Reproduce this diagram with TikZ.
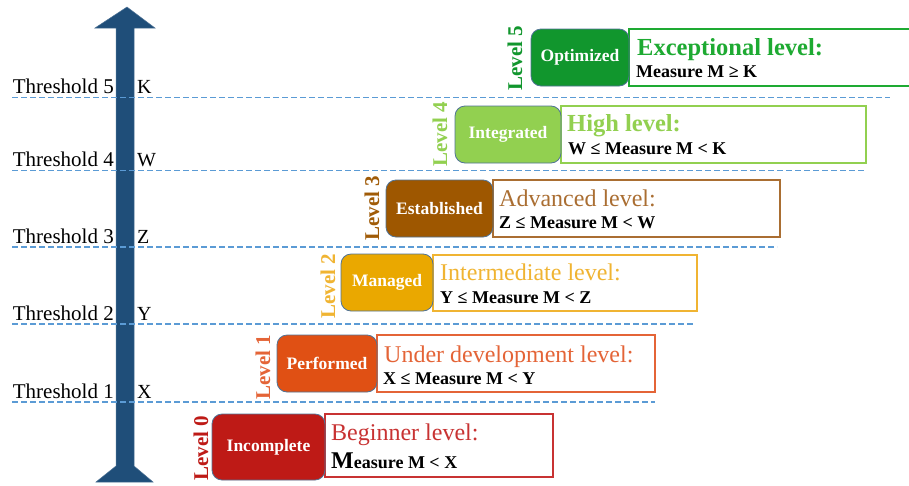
\documentclass[tikz,border=0pt]{standalone}
\usepackage{fontspec}
\setmainfont{Liberation Serif}
\definecolor{arrowc}{RGB}{31,78,121}
\definecolor{dashc}{RGB}{91,155,213}
\definecolor{boxline}{RGB}{80,115,150}
\definecolor{fA}{RGB}{17,150,45}
\definecolor{hA}{RGB}{30,170,50}
\definecolor{fB}{RGB}{146,208,80}
\definecolor{hB}{RGB}{146,208,80}
\definecolor{fC}{RGB}{158,87,0}
\definecolor{hC}{RGB}{170,110,50}
\definecolor{fD}{RGB}{234,168,0}
\definecolor{hD}{RGB}{240,180,50}
\definecolor{fE}{RGB}{224,80,20}
\definecolor{hE}{RGB}{228,100,55}
\definecolor{fF}{RGB}{190,26,22}
\definecolor{hF}{RGB}{200,50,50}
\begin{document}
\begin{tikzpicture}[x=1pt,y=-1pt,
  lvlbox/.style={draw=boxline, line width=0.8pt, rounded corners=10pt, text=white,
     font=\fontsize{17.5}{17.5}\selectfont\bfseries, inner sep=0pt},
  txtbox/.style={line width=1.3pt, fill=white, inner sep=0pt},
  thr/.style={font=\fontsize{21}{21}\selectfont, anchor=base east, inner sep=0pt},
  val/.style={font=\fontsize{20}{20}\selectfont, anchor=base west, inner sep=0pt},
  lvl/.style={rotate=90, font=\fontsize{21}{21}\selectfont\bfseries, inner sep=0pt},
  head/.style={anchor=base west, inner sep=0pt, font=\fontsize{24}{24}\selectfont},
  bhead/.style={head, font=\fontsize{24.5}{24.5}\selectfont\bfseries},
  meas/.style={anchor=base west, inner sep=0pt, font=\fontsize{18}{18}\selectfont\bfseries},
  thrline/.style={draw=dashc, line width=1.8pt, dash pattern=on 6pt off 3pt}]
\clip (0,0) rectangle (909,485);
\fill[white] (0,0) rectangle (909,485);
% vertical arrow
\fill[arrowc, draw=arrowc!80!white, line width=0.5pt]
  (127,7) -- (155,28) -- (134,28) -- (134,466) -- (153,482) -- (96,482)
  -- (116,466) -- (116,28) -- (95,28) -- cycle;
% threshold lines
\coordinate (s5) at (12,97.5); \coordinate (e5) at (890,97.5);
\coordinate (s4) at (12,170.5); \coordinate (e4) at (865,170.5);
\coordinate (s3) at (12,247); \coordinate (e3) at (777,247);
\coordinate (s2) at (12,324); \coordinate (e2) at (693,324);
\coordinate (s1) at (12,402); \coordinate (e1) at (655,402);
\foreach \i in {1,...,5} {\draw[thrline] (s\i) -- (e\i);}
% threshold labels
\node[thr] (th5) at (114,93) {Threshold 5};
\node[thr] (th4) at (114,166) {Threshold 4};
\node[thr] (th3) at (114,243) {Threshold 3};
\node[thr] (th2) at (114,320) {Threshold 2};
\node[thr] (th1) at (114,398) {Threshold 1};
\node[val] (vK) at (137,93) {K};
\node[val] (vW) at (137,166) {W};
\node[val] (vZ) at (137,243) {Z};
\node[val] (vY) at (137,320) {Y};
\node[val] (vX) at (137,398) {X};
% Level 5
\node[txtbox, draw=hA, minimum width=291pt, minimum height=57pt] (t5) at (774.5,57.5) {};
\node[lvlbox, fill=fA, minimum width=98pt, minimum height=57pt] (b5) at (580,57.5) {Optimized};
\node[lvl, text=fA] (l5) at (515,58) {Level 5};
\node[bhead, text=hA] (h5) at (637,55) {Exceptional level:};
\node[meas] (m5) at (636,77) {Measure M ≥ K};
% Level 4
\node[txtbox, draw=hB, minimum width=305pt, minimum height=57pt] (t4) at (713.5,134.5) {};
\node[lvlbox, fill=fB, minimum width=106pt, minimum height=57pt] (b4) at (508,134.5) {Integrated};
\node[lvl, text=hB] (l4) at (440,134) {Level 4};
\node[bhead, text=hB] (h4) at (567,131) {High level:};
\node[meas] (m4) at (568,154) {W ≤ Measure M < K};
% Level 3
\node[txtbox, draw=hC, minimum width=287pt, minimum height=57pt] (t3) at (636.5,208.5) {};
\node[lvlbox, fill=fC, minimum width=107pt, minimum height=57pt] (b3) at (439.5,208.5) {Established};
\node[lvl, text=fC!85!hC] (l3) at (372,208) {Level 3};
\node[head, text=hC] (h3) at (499,206) {Advanced level:};
\node[meas] (m3) at (499,228) {Z ≤ Measure M < W};
% Level 2
\node[txtbox, draw=hD, minimum width=264pt, minimum height=56pt] (t2) at (565,283) {};
\node[lvlbox, fill=fD, minimum width=92pt, minimum height=57pt] (b2) at (387,282.5) {Managed};
\node[lvl, text=hD] (l2) at (328,286) {Level 2};
\node[head, text=hD] (h2) at (440,280) {Intermediate level:};
\node[meas] (m2) at (440,303) {Y ≤ Measure M < Z};
% Level 1
\node[txtbox, draw=hE, minimum width=278pt, minimum height=57pt] (t1) at (516,363.5) {};
\node[lvlbox, fill=fE, minimum width=100pt, minimum height=57pt] (b1) at (327,363.5) {Performed};
\node[lvl, text=hE] (l1) at (263,367) {Level 1};
\node[head, text=hE] (h1) at (384,362) {Under development level:};
\node[meas] (m1) at (383,384) {X ≤ Measure M < Y};
% Level 0
\node[txtbox, draw=hF, minimum width=228pt, minimum height=63pt] (t0) at (439,445.5) {};
\node[lvlbox, fill=fF, minimum width=113pt, minimum height=66pt] (b0) at (268.5,447) {Incomplete};
\node[lvl, text=fF] (l0) at (201,448) {Level 0};
\node[head, text=hF] (h0) at (331,440) {Beginner level:};
\node[meas] (m0) at (331,468) {{\fontsize{24}{24}\selectfont M}easure M < X};
\end{tikzpicture}
\end{document}
